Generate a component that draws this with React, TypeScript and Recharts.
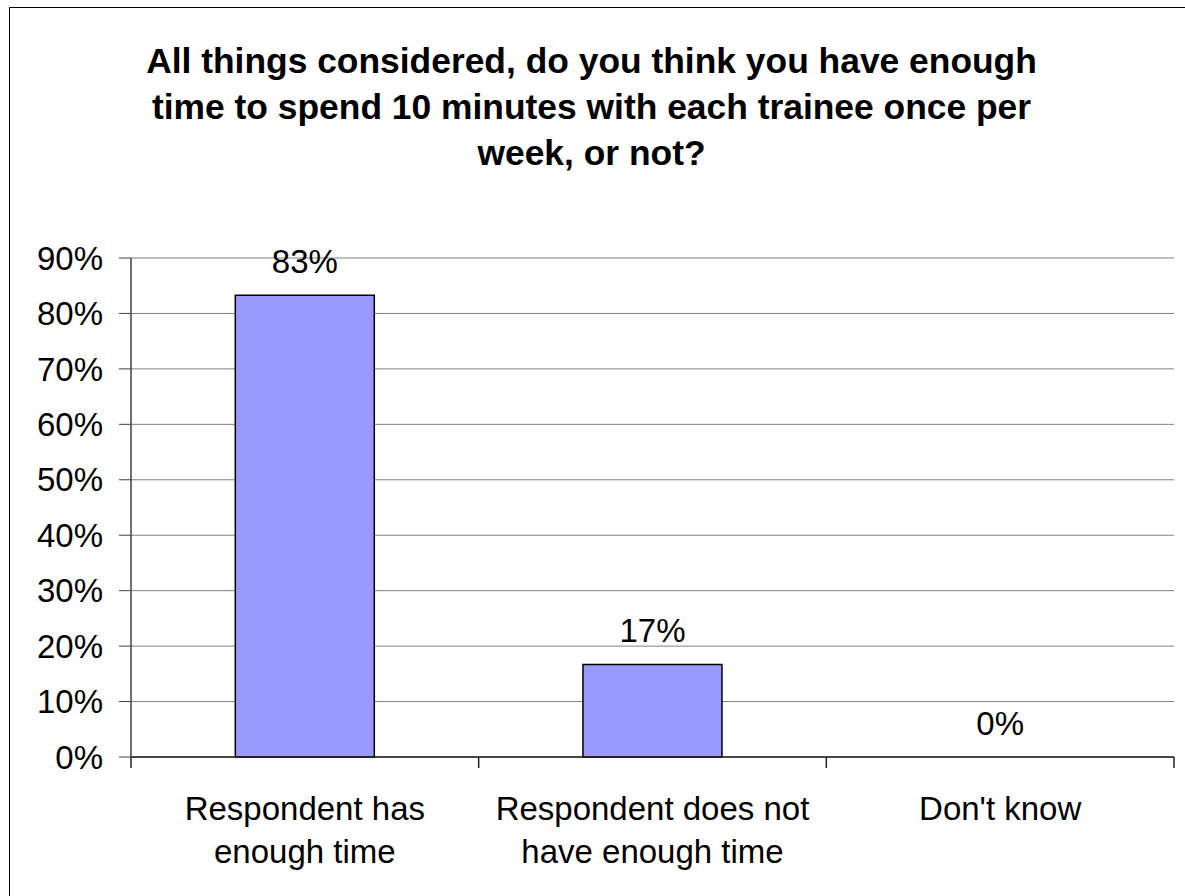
import React from 'react';
import { Bar, CartesianGrid, ComposedChart, LabelList, Line, XAxis, YAxis } from 'recharts';

const titleLines = [
  'All things considered, do you think you have enough',
  'time to spend 10 minutes with each trainee once per',
  'week, or not?',
];

const categories = ['Respondent has enough time', 'Respondent does not have enough time', "Don't know"];
const categoryLines = [
  ['Respondent has', 'enough time'],
  ['Respondent does not', 'have enough time'],
  ["Don't know"],
];
const shares = [83.3, 16.7, 0];
const yTicks = [0, 10, 20, 30, 40, 50, 60, 70, 80, 90];

const FONT = '"Liberation Sans", Arial, Helvetica, sans-serif';
const TEXT_SIZE = 33;

const data = categories.map((name, i) => ({ name, share: shares[i] }));

function CategoryTick(props: any) {
  const { x, y, payload, index } = props;
  const half = payload && payload.offset ? payload.offset : 0;
  const lines = categoryLines[index] || [String(payload.value)];
  return (
    <g>
      <line x1={x - half} y1={y} x2={x - half} y2={y + 11} stroke="#202020" strokeWidth={1.5} />
      {index === categories.length - 1 && (
        <line x1={x + half} y1={y} x2={x + half} y2={y + 11} stroke="#202020" strokeWidth={1.5} />
      )}
      <text x={x} y={y + 63} textAnchor="middle" fill="#000" fontSize={TEXT_SIZE} fontFamily={FONT}>
        {lines.map((line, i) => (
          <tspan key={i} x={x} dy={i === 0 ? 0 : 43}>
            {line}
          </tspan>
        ))}
      </text>
    </g>
  );
}

export default function App() {
  return (
    <>
      <style>{'html, body { overflow: hidden; }'}</style>
      <div
        style={{
          position: 'absolute',
          left: 8,
          top: 7,
          width: 1177,
          height: 889,
          overflow: 'hidden',
          background: '#fff',
        }}
      >
        <div
          style={{
            position: 'absolute',
            left: 1,
            top: 0,
            width: 1300,
            height: 1000,
            border: '1px solid #000',
            boxSizing: 'border-box',
          }}
        />
        <div
          style={{
            position: 'absolute',
            left: 0,
            top: 31,
            width: 1167,
            textAlign: 'center',
            fontFamily: FONT,
            fontWeight: 'bold',
            fontSize: 35.4,
            lineHeight: '46px',
            color: '#000',
          }}
        >
          {titleLines.map((line, i) => (
            <div key={i}>{line}</div>
          ))}
        </div>
        <div style={{ position: 'absolute', left: 0, top: 0 }}>
          <ComposedChart
            width={1177}
            height={889}
            data={data}
            margin={{ top: 251, right: 11, bottom: 0, left: 0 }}
            barCategoryGap="30%"
          >
            <CartesianGrid horizontal vertical={false} stroke="#808080" strokeWidth={1} />
            <XAxis
              dataKey="name"
              axisLine={{ stroke: '#202020', strokeWidth: 1.5 }}
              tickLine={false}
              tickSize={0}
              tickMargin={0}
              height={139}
              interval={0}
              tick={<CategoryTick />}
            />
            <YAxis
              width={123}
              domain={[0, 90]}
              ticks={yTicks}
              interval={0}
              tickFormatter={(v: number) => `${v}%`}
              axisLine={{ stroke: '#404040', strokeWidth: 1.5 }}
              tickLine={{ stroke: '#404040' }}
              tickSize={12}
              tickMargin={16}
              tick={{ fill: '#000', fontSize: TEXT_SIZE, fontFamily: FONT }}
            />
            <YAxis
              yAxisId="right"
              orientation="right"
              width={0}
              tick={false}
              tickLine={false}
              axisLine={{ stroke: '#808080', strokeWidth: 1.5 }}
            />
            <Bar dataKey="share" fill="#9999FF" stroke="#000" strokeWidth={1.5} isAnimationActive={false} />
            <Line
              dataKey="share"
              stroke="none"
              dot={false}
              activeDot={false}
              legendType="none"
              isAnimationActive={false}
            >
              <LabelList
                dataKey="share"
                position="top"
                offset={22}
                formatter={(v: any) => `${Math.round(Number(v))}%`}
                fill="#000"
                fontSize={TEXT_SIZE}
                fontFamily={FONT}
              />
            </Line>
          </ComposedChart>
        </div>
      </div>
    </>
  );
}
